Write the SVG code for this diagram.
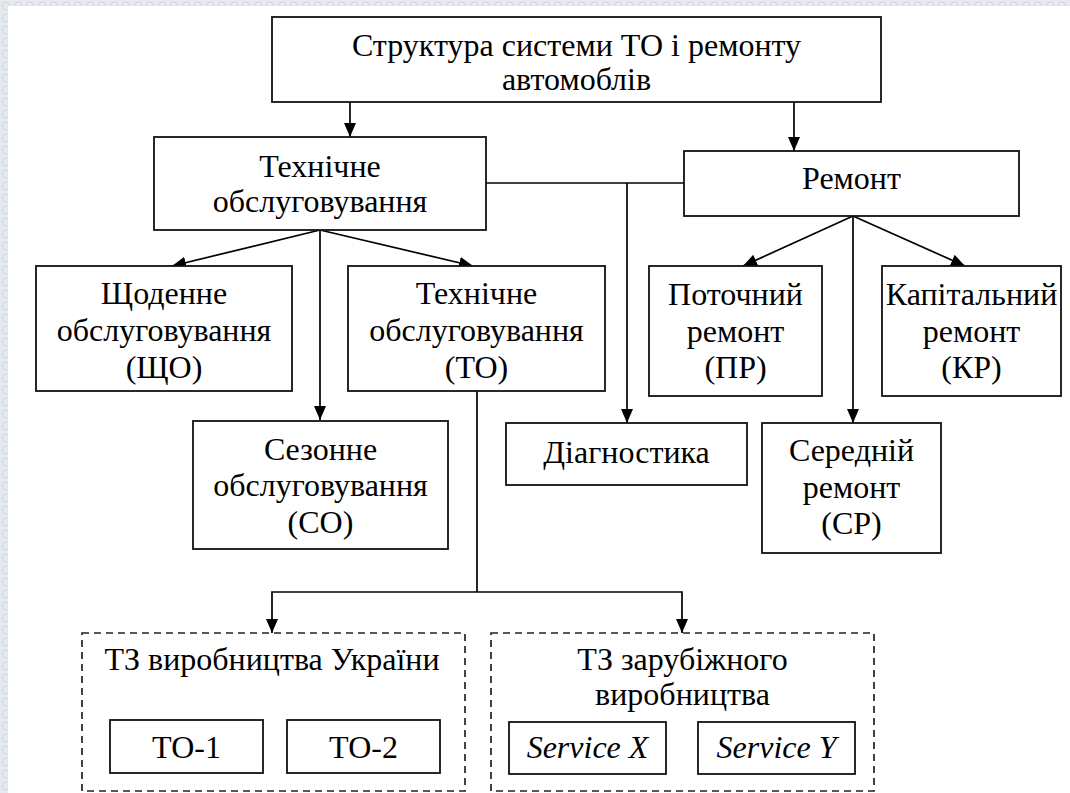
<svg xmlns="http://www.w3.org/2000/svg" width="1070" height="793" viewBox="0 0 1070 793">
<defs>
<marker id="arr" markerUnits="userSpaceOnUse" markerWidth="14" markerHeight="12" refX="14" refY="6" orient="auto">
<path d="M0,0 L14,6 L0,12 z" fill="#000"/>
</marker>
<pattern id="bg" width="12" height="12" patternUnits="userSpaceOnUse">
<rect width="12" height="12" fill="#e6eaee"/>
<circle cx="6" cy="6" r="4" fill="none" stroke="#cfd6dd" stroke-width="1"/>
</pattern>
</defs>
<style>
.box{fill:#fff;stroke:#111;stroke-width:1.8}
.dash{fill:none;stroke:#222;stroke-width:1.7;stroke-dasharray:7 5}
text{font-family:'Liberation Serif','Times New Roman',serif;font-size:32px;fill:#000;text-anchor:middle}
.i{font-style:italic}
.ln{fill:none;stroke:#000;stroke-width:1.7}
.ar{fill:none;stroke:#000;stroke-width:1.7;marker-end:url(#arr)}
</style>
<rect width="1070" height="793" fill="url(#bg)"/>
<rect x="8" y="6" width="1062" height="787" fill="#fff"/>

<g id="connectors">
<line class="ar" x1="350" y1="102" x2="350" y2="137"/>
<line class="ar" x1="794" y1="102" x2="794" y2="151"/>
<line class="ar" x1="320" y1="230" x2="172" y2="266"/>
<line class="ar" x1="320" y1="230" x2="320" y2="420"/>
<line class="ar" x1="320" y1="230" x2="473" y2="266"/>
<line class="ln" x1="486" y1="183" x2="684" y2="183"/>
<line class="ar" x1="627" y1="183" x2="627" y2="423"/>
<line class="ar" x1="853" y1="216" x2="743" y2="266"/>
<line class="ar" x1="853" y1="216" x2="853" y2="423"/>
<line class="ar" x1="853" y1="216" x2="965" y2="266"/>
<line class="ln" x1="477" y1="391" x2="477" y2="592"/>
<polyline class="ar" points="477,592 272,592 272,633"/>
<polyline class="ar" points="477,592 682,592 682,633"/>
</g>

<g id="root">
<rect class="box" x="272" y="17" width="609" height="85"/>
<text x="576.5" y="56">Структура системи ТО і ремонту</text>
<text x="576.5" y="90">автомоблів</text>
</g>
<g id="tech">
<rect class="box" x="154" y="137" width="332" height="93"/>
<text x="320" y="177">Технічне</text>
<text x="320" y="212">обслуговування</text>
</g>
<g id="remont">
<rect class="box" x="684" y="151" width="335" height="65"/>
<text x="851.5" y="189">Ремонт</text>
</g>
<g id="shcho">
<rect class="box" x="36" y="266" width="256" height="125"/>
<text x="164" y="304">Щоденне</text>
<text x="164" y="341">обслуговування</text>
<text x="164" y="378">(ЩО)</text>
</g>
<g id="to">
<rect class="box" x="348" y="266" width="257" height="125"/>
<text x="476.5" y="304">Технічне</text>
<text x="476.5" y="341">обслуговування</text>
<text x="476.5" y="378">(ТО)</text>
</g>
<g id="so">
<rect class="box" x="193" y="421" width="255" height="128"/>
<text x="320.5" y="460">Сезонне</text>
<text x="320.5" y="496">обслуговування</text>
<text x="320.5" y="533">(СО)</text>
</g>
<g id="diag">
<rect class="box" x="506" y="423" width="241" height="62"/>
<text x="626.5" y="463">Діагностика</text>
</g>
<g id="pr">
<rect class="box" x="649" y="266" width="173" height="130"/>
<text x="735.5" y="305">Поточний</text>
<text x="735.5" y="342">ремонт</text>
<text x="735.5" y="378">(ПР)</text>
</g>
<g id="kr">
<rect class="box" x="882" y="266" width="179" height="130"/>
<text x="971.5" y="305">Капітальний</text>
<text x="971.5" y="342">ремонт</text>
<text x="971.5" y="378">(КР)</text>
</g>
<g id="sr">
<rect class="box" x="762" y="423" width="179" height="130"/>
<text x="851.5" y="461">Середній</text>
<text x="851.5" y="498">ремонт</text>
<text x="851.5" y="534">(СР)</text>
</g>
<g id="ua">
<rect class="dash" x="82" y="633" width="383" height="158"/>
<text x="272" y="670">ТЗ виробництва України</text>
</g>
<g id="to1">
<rect class="box" x="110" y="720" width="153" height="53"/>
<text x="186.5" y="758">ТО-1</text>
</g>
<g id="to2">
<rect class="box" x="287" y="720" width="153" height="53"/>
<text x="363.5" y="758">ТО-2</text>
</g>
<g id="foreign">
<rect class="dash" x="491" y="633" width="383" height="158"/>
<text x="682.5" y="670">ТЗ зарубіжного</text>
<text x="682.5" y="705">виробництва</text>
</g>
<g id="svcx">
<rect class="box" x="509" y="722" width="157" height="52"/>
<text class="i" x="587.5" y="758">Service X</text>
</g>
<g id="svcy">
<rect class="box" x="698" y="722" width="157" height="52"/>
<text class="i" x="776.5" y="758">Service Y</text>
</g>
</svg>
